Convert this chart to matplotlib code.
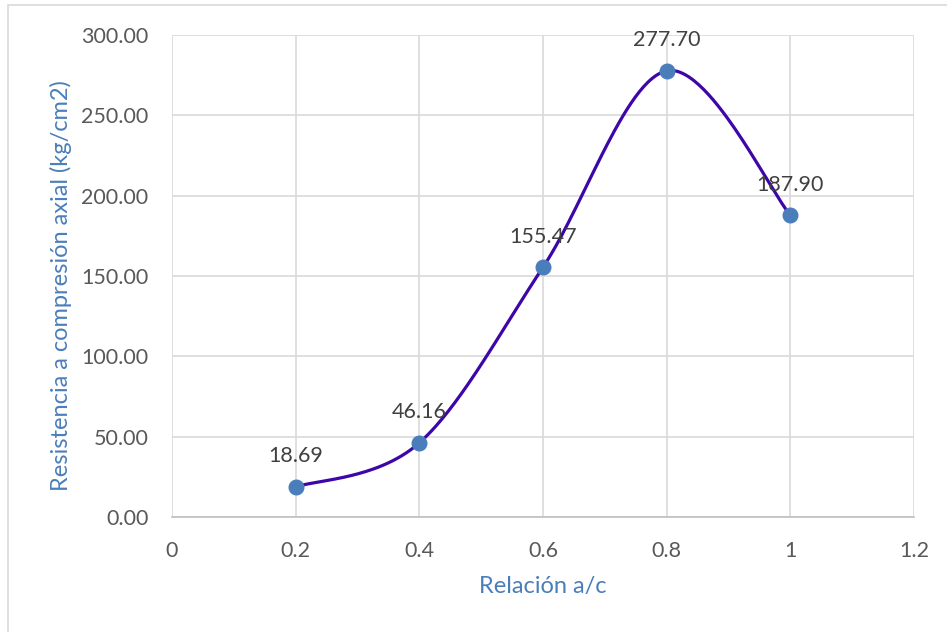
import numpy as np
import matplotlib.pyplot as plt
from matplotlib.patches import Rectangle

# data
relacion = [0.2, 0.4, 0.6, 0.8, 1.0]
resistencia = [18.69, 46.16, 155.47, 277.70, 187.90]
x_ticks = [0, 0.2, 0.4, 0.6, 0.8, 1.0, 1.2]
x_labels = ["0", "0.2", "0.4", "0.6", "0.8", "1", "1.2"]
y_ticks = [0, 50, 100, 150, 200, 250, 300]


def excel_smooth(xs, ys, n=60):
    """Bezier smoothing similar to Excel's smoothed line."""
    P = np.column_stack([xs, ys]).astype(float)
    ext = np.vstack([P[0], P, P[-1]])
    out = []
    t = np.linspace(0, 1, n)[:, None]
    for i in range(len(P) - 1):
        p0, p3 = P[i], P[i + 1]
        c1 = p0 + (ext[i + 2] - ext[i]) / 6
        c2 = p3 - (ext[i + 3] - ext[i + 1]) / 6
        seg = ((1 - t) ** 3) * p0 + 3 * ((1 - t) ** 2) * t * c1 + 3 * (1 - t) * t ** 2 * c2 + t ** 3 * p3
        out.append(seg)
    out = np.vstack(out)
    return out[:, 0], out[:, 1]


plt.rcParams['font.family'] = ['Lato', 'DejaVu Sans']

fig = plt.figure(figsize=(9.47, 6.32), dpi=100)
fig.patches.append(Rectangle((8 / 947, -0.1), 1.2, 1 - 5 / 632 + 0.1, transform=fig.transFigure,
                             fill=False, edgecolor='#d9d9d9', linewidth=1.2))
ax = fig.add_axes([172 / 947, 1 - 517 / 632, (914 - 172) / 947, (517 - 35) / 632])

sx, sy = excel_smooth(relacion, resistencia)
ax.plot(sx, sy, color='#3d06a8', linewidth=2.3, zorder=3)
ax.plot(relacion, resistencia, 'o', color='#4a7ebb', markersize=10.5, zorder=4)

for x, y in zip(relacion, resistencia):
    ax.annotate(f"{y:.2f}", (x, y), xytext=(0, 22), textcoords='offset points',
                ha='center', va='center', fontsize=15.5, color='#404040')

ax.set_xlim(0, 1.2)
ax.set_ylim(0, 300)
ax.set_xticks(x_ticks)
ax.set_xticklabels(x_labels)
ax.set_yticks(y_ticks)
ax.set_yticklabels([f"{v:.2f}" for v in y_ticks])
ax.tick_params(length=0, labelsize=15.5, labelcolor='#595959')
ax.tick_params(axis='x', pad=17)
ax.tick_params(axis='y', pad=17)
ax.grid(True, color='#d9d9d9', linewidth=1.2)
ax.set_axisbelow(True)
for side in ['top', 'right', 'left']:
    ax.spines[side].set_visible(False)
ax.spines['bottom'].set_color('#bfbfbf')
ax.spines['bottom'].set_linewidth(1.2)

ax.set_xlabel("Relación a/c", fontsize=17, color='#4a7ebb')
ax.set_ylabel("Resistencia a compresión axial (kg/cm2)", fontsize=17, color='#4a7ebb')
ax.xaxis.set_label_coords(0.5, (517 - 576) / 482)
ax.yaxis.set_label_coords((72 - 172) / 742, 0.48)

fig.savefig("out.png", dpi=100)
